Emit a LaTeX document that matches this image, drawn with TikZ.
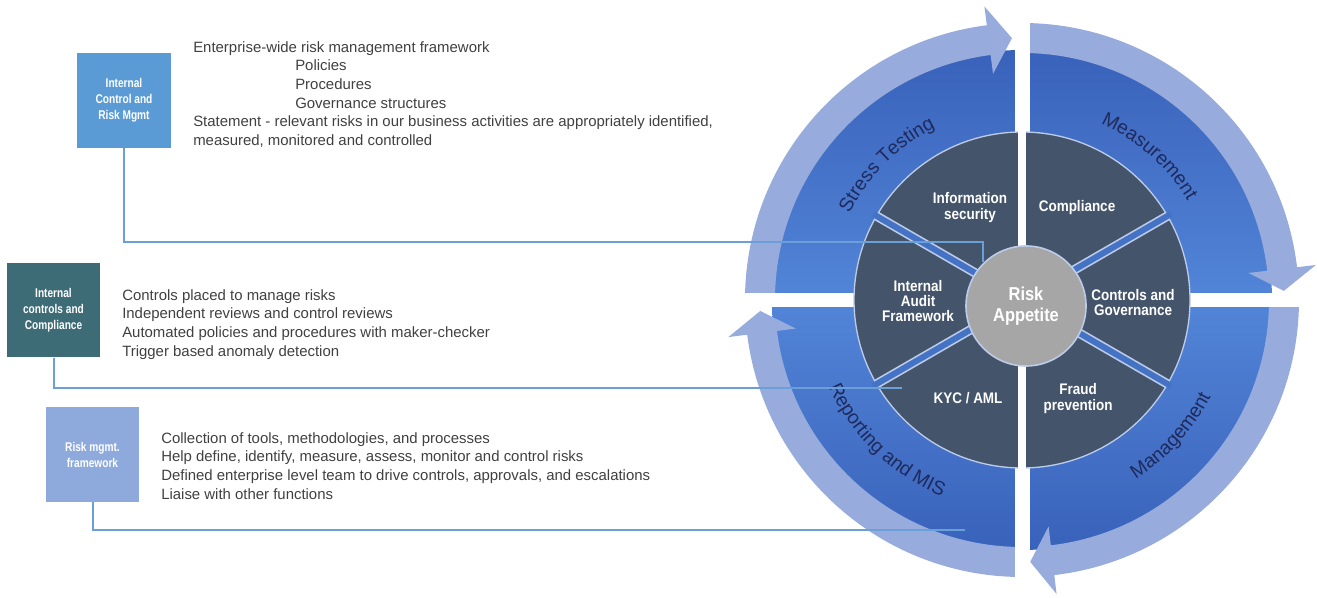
\documentclass[tikz,border=0pt]{standalone}
\usepackage{fontspec}
\setmainfont{Liberation Sans}
\newfontfamily\labelfont[FakeStretch=0.88]{Liberation Sans}
\newfontfamily\boxfont[FakeStretch=0.8]{Liberation Sans}
\usetikzlibrary{decorations.text}

\definecolor{quadblue}{HTML}{4472C4}
\definecolor{quaddark}{HTML}{3962BA}
\definecolor{quadlight}{HTML}{5285D8}
\definecolor{bandblue}{HTML}{97ACDC}
\definecolor{wheelgray}{HTML}{44546A}
\definecolor{rimline}{HTML}{BCCBE8}
\definecolor{riskgray}{HTML}{A6A6A6}
\definecolor{navytext}{HTML}{1F2A5C}
\definecolor{bodytext}{HTML}{404040}
\definecolor{boxblue}{HTML}{5B9BD5}
\definecolor{boxteal}{HTML}{3D6B76}
\definecolor{boxlight}{HTML}{8EA9DB}
\definecolor{linkblue}{HTML}{6A9FD8}

\newcommand{\ringfont}{\fontsize{14.5}{16}\selectfont}

\tikzset{
  sidebox/.style={minimum width=70pt, minimum height=71pt, inner sep=1pt, align=center,
    text=white, font=\boxfont\bfseries\fontsize{9.5}{12}\selectfont},
  bodytxt/.style={anchor=north west, inner sep=0pt, align=left, text=bodytext,
    font=\fontsize{11.2}{14}\selectfont},
  sector/.style={align=center, text=white, font=\labelfont\bfseries\fontsize{11.5}{11.5}\selectfont},
  link/.style={linkblue, line width=1.5pt},
  ringtext/.style={decorate, decoration={text along path, text align=center,
    text color=navytext, text={|\ringfont|#1}}},
}

\begin{document}
\begin{tikzpicture}[x=0.75pt, y=0.75pt]
    \useasboundingbox (0,0) rectangle (1317,598);

    % blue ring with the four arrows
    \begin{scope}[shift={(1022,298)}]
        \shade[top color=quaddark, bottom color=quadlight] (-250,0) arc[start angle=180, end angle=0, radius=250] -- cycle;
        \shade[top color=quadlight, bottom color=quaddark] (250,0) arc[start angle=0, end angle=-180, radius=250] -- cycle;
        \fill[bandblue] (180:277) arc[start angle=180, end angle=97.3, radius=277] -- (97.3:296)
            -- (92.2:262) -- (97.3:228) -- (97.3:247) arc[start angle=97.3, end angle=180, radius=247] -- cycle;
        \fill[bandblue] (90:277) arc[start angle=90, end angle=6.8, radius=277] -- (6.8:296)
            -- (2:262) -- (6.8:228) -- (6.8:247) arc[start angle=6.8, end angle=90, radius=247] -- cycle;
        \fill[bandblue] (0:277) arc[start angle=0, end angle=-83.3, radius=277] -- (-83.3:296)
            -- (-88.2:262) -- (-83.3:228) -- (-83.3:247) arc[start angle=-83.3, end angle=0, radius=247] -- cycle;
        \fill[bandblue] (-90:277) arc[start angle=-90, end angle=-172.8, radius=277] -- (-172.8:296)
            -- (-177.6:262) -- (-172.8:228) -- (-172.8:247) arc[start angle=-172.8, end angle=-90, radius=247] -- cycle;
    \end{scope}

    % white gaps between the quadrants
    \fill[white] (1014.5,8) rectangle (1029.5,590);
    \fill[white] (740,291) rectangle (1305,305);

    % dark wheel and its separators
    \begin{scope}[shift={(1022,298)}]
        \fill[wheelgray, draw=rimline, line width=1pt] (0,0) circle (168);
        \foreach \a in {30,150,210,330} {
            \draw[rimline, line width=7pt] (0,0) -- (\a:168);
            \draw[quadblue, line width=4.5pt] (0,0) -- (\a:172);
        }
        \foreach \a in {90,270}
            \draw[white, line width=6pt] (0,0) -- (\a:172);

        % ring labels
        \path[ringtext={Stress Testing}] (175:193) arc[start angle=175, end angle=95, radius=193];
        \path[ringtext={Measurement}] (88.4:193) arc[start angle=88.4, end angle=8.4, radius=193];
        \path[ringtext={Management}] (-82.3:212) arc[start angle=-82.3, end angle=-2.3, radius=212];
        \path[ringtext={Reporting and MIS}] (186:212) arc[start angle=186, end angle=266, radius=212];
    \end{scope}

    % sector labels
    \node[sector] (infosec) at (970,390.5) {Information\\security};
    \node[sector] (compl) at (1077,390) {Compliance};
    \node[sector] (ctrlgov) at (1133,295.5) {Controls and\\Governance};
    \node[sector] (fraud) at (1078,199.5) {Fraud\\prevention};
    \node[sector] (kyc) at (968,200) {KYC / AML};
    \node[sector] (audit) at (918,297) {Internal\\Audit\\Framework};

    % boxes on the left
    \node[sidebox, fill=boxblue] (icrm) at (124,497.5) {Internal\\Control and\\Risk Mgmt};
    \node[sidebox, fill=boxteal] (icc) at (53.5,288) {Internal\\controls and\\Compliance};
    \node[sidebox, fill=boxlight] (rmf) at (92.5,143.5) {Risk mgmt.\\framework};

    % descriptions
    \node[bodytxt] (ermtxt) at (193,557) {Enterprise-wide risk management framework\\
        \hspace*{76.5pt}Policies\\ \hspace*{76.5pt}Procedures\\ \hspace*{76.5pt}Governance structures\\
        Statement - relevant risks in our business activities are appropriately identified,\\
        measured, monitored and controlled};
    \node[bodytxt] (icctxt) at (122,309) {Controls placed to manage risks\\
        Independent reviews and control reviews\\
        Automated policies and procedures with maker-checker\\
        Trigger based anomaly detection};
    \node[bodytxt] (rmftxt) at (161,166) {Collection of tools, methodologies, and processes\\
        Help define, identify, measure, assess, monitor and control risks\\
        Defined enterprise level team to drive controls, approvals, and escalations\\
        Liaise with other functions};

    % connectors into the wheel
    \coordinate (icrmBend) at (983,356);
    \coordinate (icrmEnd) at (983,336);
    \coordinate (iccEnd) at (902,210);
    \coordinate (rmfEnd) at (965,68);
    \draw[link] (icrm.south) |- (icrmBend) -- (icrmEnd);
    \draw[link] (icc.south) |- (iccEnd);
    \draw[link] (rmf.south) |- (rmfEnd);

    % centre
    \node[circle, fill=riskgray, draw=rimline, line width=1.2pt, minimum size=90pt, align=center,
        text=white, font=\labelfont\bfseries\fontsize{14}{16}\selectfont] (risk) at (1026,292) {Risk\\Appetite};

\end{tikzpicture}
\end{document}
